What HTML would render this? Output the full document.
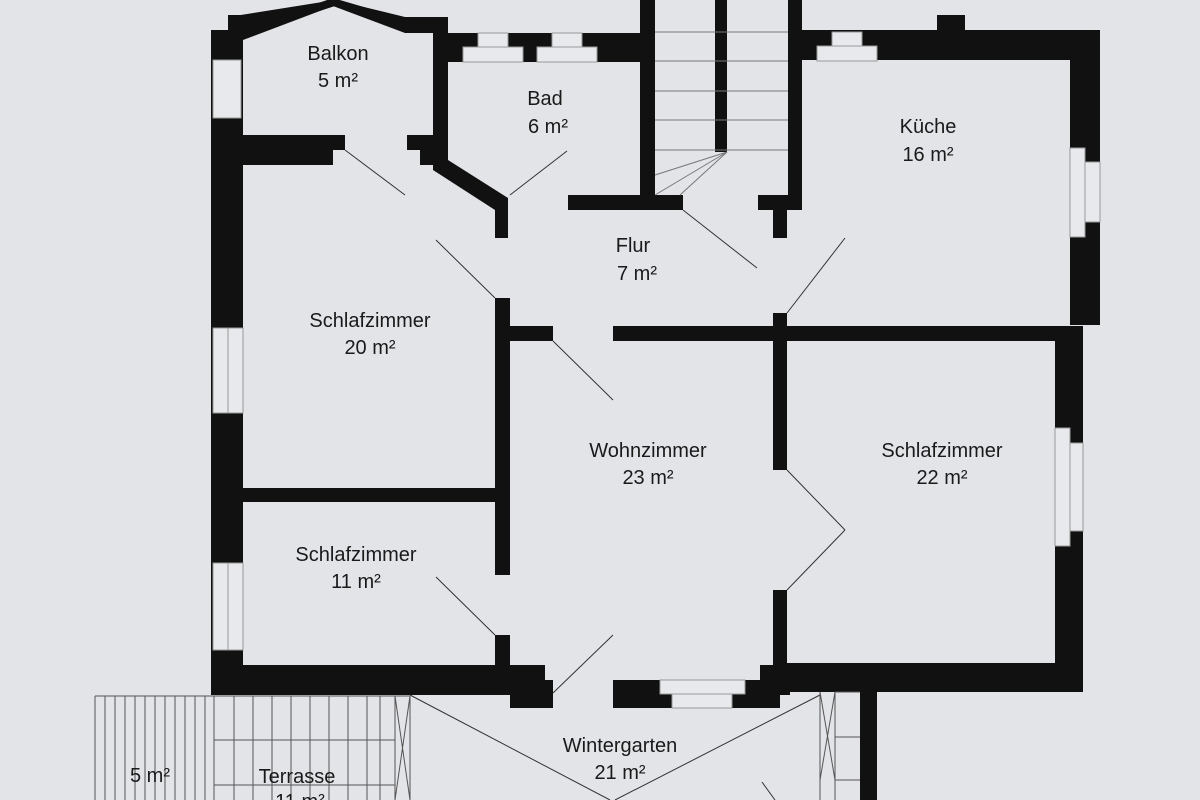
<!DOCTYPE html>
<html><head><meta charset="utf-8"><style>
html,body{margin:0;padding:0;background:#e3e4e8;}
svg{display:block}
text{font-family:"Liberation Sans",sans-serif;font-size:20px;fill:#1a1a1a;text-anchor:middle}
</style></head><body>
<svg width="1200" height="800" viewBox="0 0 1200 800" xmlns="http://www.w3.org/2000/svg">
<rect width="1200" height="800" fill="#e3e4e8"/>
<g fill="#111">
<!-- left outer wall -->
<rect x="211" y="30" width="32" height="662"/>
<rect x="228" y="15" width="22" height="20"/>
<!-- balkon roof -->
<polygon points="228,17 335,0 405,17 437,17 437,30 405,30 335,6 242,36 242,30"/>
<polygon points="240,30 333,-2 408,20 437,20 437,33 405,33 333,6 243,40"/>
<!-- balkon right wall + diagonal -->
<rect x="433" y="17" width="15" height="150"/>
<rect x="407" y="135" width="41" height="15"/>
<rect x="420" y="148" width="28" height="17"/>
<polygon points="433,160 448,160 508,198 508,238 495,238 495,210 433,170"/>
<!-- balkon bottom wall -->
<rect x="243" y="135" width="102" height="15"/>
<rect x="243" y="148" width="90" height="17"/>
<!-- top wall of bad -->
<rect x="448" y="33" width="207" height="29"/>
<!-- stairs walls -->
<rect x="640" y="0" width="15" height="210"/>
<rect x="568" y="195" width="115" height="15"/>
<rect x="715" y="0" width="12" height="152"/>
<rect x="788" y="0" width="14" height="210"/>
<rect x="758" y="195" width="44" height="15"/>
<rect x="773" y="195" width="14" height="43"/>
<!-- top right wall -->
<rect x="800" y="30" width="283" height="30"/>
<rect x="937" y="15" width="28" height="18"/>
<rect x="1070" y="30" width="30" height="295"/>
<!-- horizontal wall Flur/Wohn -->
<rect x="613" y="326" width="470" height="15"/>
<rect x="773" y="313" width="14" height="157"/>
<rect x="773" y="590" width="14" height="100"/>
<!-- right lower wall -->
<rect x="1055" y="326" width="28" height="366"/>
<rect x="773" y="663" width="310" height="29"/>
<!-- wohn left wall -->
<rect x="495" y="298" width="15" height="277"/>
<rect x="510" y="326" width="43" height="15"/>
<rect x="495" y="635" width="15" height="40"/>
<rect x="243" y="488" width="254" height="14"/>
<!-- bottom wall -->
<rect x="211" y="665" width="334" height="30"/>
<rect x="510" y="680" width="43" height="28"/>
<rect x="613" y="680" width="167" height="28"/>
<rect x="760" y="665" width="30" height="30"/>
<rect x="860" y="690" width="17" height="110"/>
</g>
<!-- windows -->
<g fill="#e8e9ed" stroke="#999" stroke-width="1">
<rect x="213" y="60" width="28" height="58"/>
<rect x="213" y="328" width="15" height="85"/><rect x="228" y="328" width="15" height="85"/>
<rect x="213" y="563" width="15" height="87"/><rect x="228" y="563" width="15" height="87"/>
<rect x="478" y="33" width="30" height="14"/><rect x="463" y="47" width="60" height="15"/>
<rect x="552" y="33" width="30" height="14"/><rect x="537" y="47" width="60" height="15"/>
<rect x="832" y="32" width="30" height="14"/><rect x="817" y="46" width="60" height="15"/>
<rect x="1070" y="148" width="15" height="89"/><rect x="1085" y="162" width="15" height="60"/>
<rect x="1055" y="428" width="15" height="118"/><rect x="1070" y="443" width="13" height="88"/>
<rect x="660" y="680" width="85" height="14"/><rect x="672" y="694" width="60" height="14"/>
</g>
<!-- stairs -->
<g stroke="#777" stroke-width="1" fill="none">
<line x1="655" y1="32" x2="788" y2="32"/><line x1="655" y1="61" x2="788" y2="61"/>
<line x1="655" y1="91" x2="788" y2="91"/><line x1="655" y1="120" x2="788" y2="120"/>
<line x1="655" y1="150" x2="788" y2="150"/>
<line x1="727" y1="152" x2="655" y2="175"/><line x1="727" y1="152" x2="655" y2="195"/>
<line x1="727" y1="152" x2="680" y2="195"/>
</g>
<!-- doors -->
<g stroke="#333" stroke-width="1">
<line x1="345" y1="150" x2="405" y2="195"/>
<line x1="510" y1="195" x2="567" y2="151"/>
<line x1="683" y1="210" x2="757" y2="268"/>
<line x1="787" y1="313" x2="845" y2="238"/>
<line x1="436" y1="240" x2="495" y2="298"/>
<line x1="553" y1="341" x2="613" y2="400"/>
<line x1="787" y1="470" x2="845" y2="530"/><line x1="787" y1="590" x2="845" y2="530"/>
<line x1="436" y1="577" x2="495" y2="635"/>
<line x1="553" y1="693" x2="613" y2="635"/>
<line x1="410" y1="695" x2="610" y2="800"/><line x1="820" y1="695" x2="615" y2="800"/>
<line x1="762" y1="782" x2="775" y2="800"/>
</g>
<!-- terrace grid -->
<g stroke="#555" stroke-width="1" fill="none">
<line x1="95" y1="696" x2="410" y2="696"/>
<line x1="95" y1="696" x2="95" y2="800"/><line x1="105" y1="696" x2="105" y2="800"/>
<line x1="115" y1="696" x2="115" y2="800"/><line x1="125" y1="696" x2="125" y2="800"/>
<line x1="135" y1="696" x2="135" y2="800"/><line x1="145" y1="696" x2="145" y2="800"/>
<line x1="155" y1="696" x2="155" y2="800"/><line x1="165" y1="696" x2="165" y2="800"/>
<line x1="175" y1="696" x2="175" y2="800"/><line x1="185" y1="696" x2="185" y2="800"/>
<line x1="195" y1="696" x2="195" y2="800"/><line x1="205" y1="696" x2="205" y2="800"/>
<line x1="214" y1="696" x2="214" y2="800"/>
<line x1="234" y1="696" x2="234" y2="800"/><line x1="253" y1="696" x2="253" y2="800"/>
<line x1="272" y1="696" x2="272" y2="800"/><line x1="291" y1="696" x2="291" y2="800"/>
<line x1="310" y1="696" x2="310" y2="800"/><line x1="329" y1="696" x2="329" y2="800"/>
<line x1="348" y1="696" x2="348" y2="800"/><line x1="367" y1="696" x2="367" y2="800"/>
<line x1="380" y1="696" x2="380" y2="800"/>
<line x1="214" y1="740" x2="395" y2="740"/><line x1="214" y1="785" x2="395" y2="785"/>
<line x1="395" y1="696" x2="395" y2="800"/><line x1="410" y1="696" x2="410" y2="800"/>
<line x1="395" y1="696" x2="410" y2="800"/><line x1="410" y1="696" x2="395" y2="800"/>
<line x1="820" y1="692" x2="820" y2="800"/><line x1="835" y1="692" x2="835" y2="800"/>
<line x1="820" y1="692" x2="835" y2="780"/><line x1="835" y1="692" x2="820" y2="780"/>
<line x1="835" y1="692" x2="860" y2="692"/><line x1="835" y1="737" x2="860" y2="737"/>
<line x1="835" y1="780" x2="860" y2="780"/>
</g>
<!-- labels -->
<text x="338" y="60">Balkon</text><text x="338" y="87">5 m²</text>
<text x="545" y="105">Bad</text><text x="548" y="133">6 m²</text>
<text x="928" y="133">Küche</text><text x="928" y="161">16 m²</text>
<text x="633" y="252">Flur</text><text x="637" y="280">7 m²</text>
<text x="370" y="327">Schlafzimmer</text><text x="370" y="354">20 m²</text>
<text x="648" y="457">Wohnzimmer</text><text x="648" y="484">23 m²</text>
<text x="942" y="457">Schlafzimmer</text><text x="942" y="484">22 m²</text>
<text x="356" y="561">Schlafzimmer</text><text x="356" y="588">11 m²</text>
<text x="620" y="752">Wintergarten</text><text x="620" y="779">21 m²</text>
<text x="150" y="782">5 m²</text>
<text x="297" y="783">Terrasse</text><text x="300" y="808">11 m²</text>
</svg>
</body></html>
